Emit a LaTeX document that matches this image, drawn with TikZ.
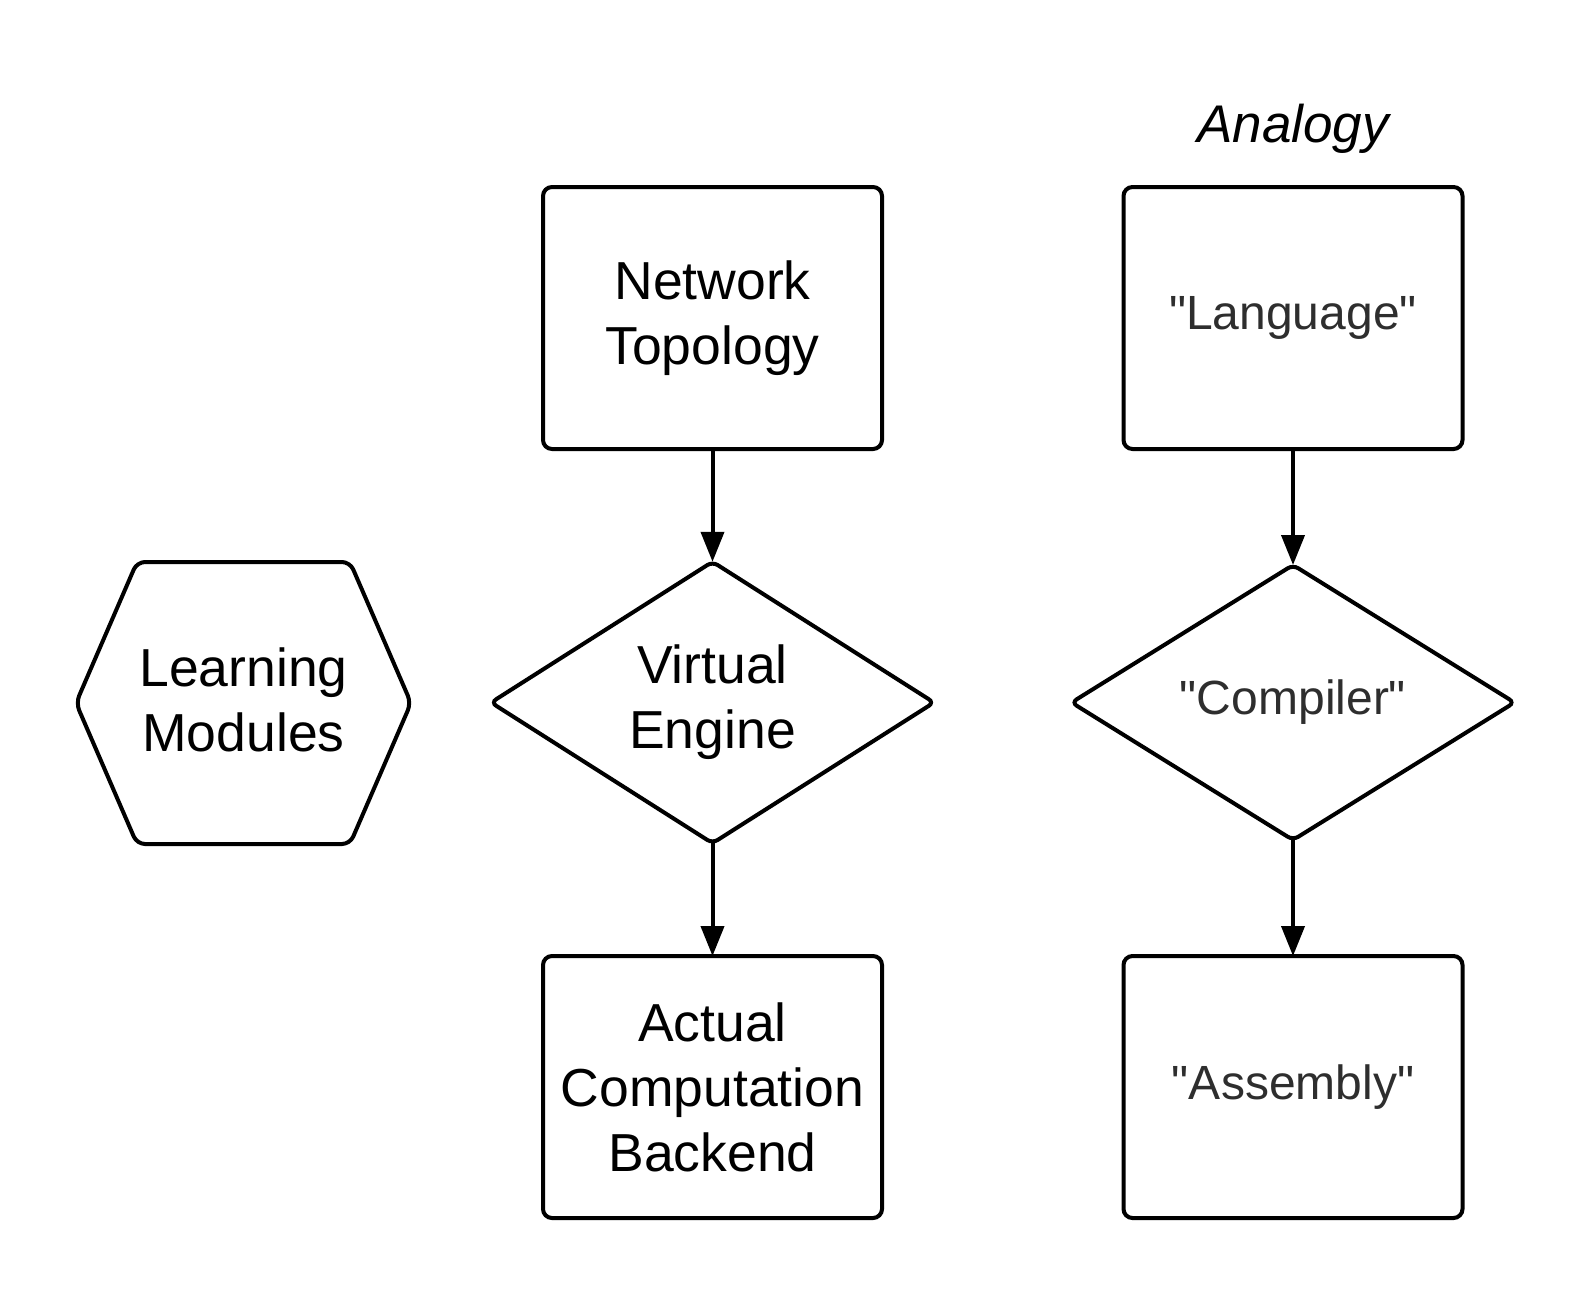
\documentclass[tikz,border=0pt]{standalone}
\usepackage{fontspec}
\setmainfont{Liberation Sans}[Ligatures=TeXOff]
\usetikzlibrary{shapes.geometric,arrows.meta}
\definecolor{txtgray}{HTML}{2E2E2E}
\begin{document}
\begin{tikzpicture}[x=1pt,y=-1pt,
  every node/.style={inner sep=0pt, outer sep=0pt},
  box/.style={draw, line width=4pt, rounded corners=9pt, minimum width=339pt, minimum height=262pt, align=center},
  dia/.style={draw, diamond, line width=4pt, rounded corners=6pt, minimum width=443pt, minimum height=275pt, align=center},
  lbl/.style={font=\fontsize{53.5}{65}\selectfont},
  rlbl/.style={font=\fontsize{48}{60}\selectfont, text=txtgray},
  conn/.style={line width=4pt, -{Triangle[length=30pt,width=23pt]}}
]
\useasboundingbox (0,0) rectangle (1594,1294);

% left column
\node[box, lbl] (nt) at (712.5,318) {Network\\Topology};
\node[dia, lbl] (ve) at (712.5,702.5) {Virtual\\Engine};
\node[box, lbl] (acb) at (712.5,1087) {Actual\\Computation\\Backend};

% right column
\node[font=\fontsize{53}{60}\selectfont\itshape, anchor=base] (an) at (1293,142) {Analogy};
\node[box, rlbl] (lang) at (1293,318) {"Language"};
\node[dia, rlbl] (comp) at (1293,702.5) {"Compiler"};
\node[box, rlbl] (asm) at (1293,1087) {"Assembly"};

% hexagon
\node[lbl, align=center] (lm) at (243.5,700) {Learning\\Modules};
\draw[line width=4pt, rounded corners=8pt] (243.5,703) ++(-167.5,0) -- ++(61,-141) -- ++(213,0) -- ++(61,141) -- ++(-61,141) -- ++(-213,0) -- cycle;

% connectors
\draw[conn] (nt.south) -- (ve.north);
\draw[conn] (ve.south) -- (acb.north);
\draw[conn] (lang.south) -- (comp.north);
\draw[conn] (comp.south) -- (asm.north);
\end{tikzpicture}
\end{document}
